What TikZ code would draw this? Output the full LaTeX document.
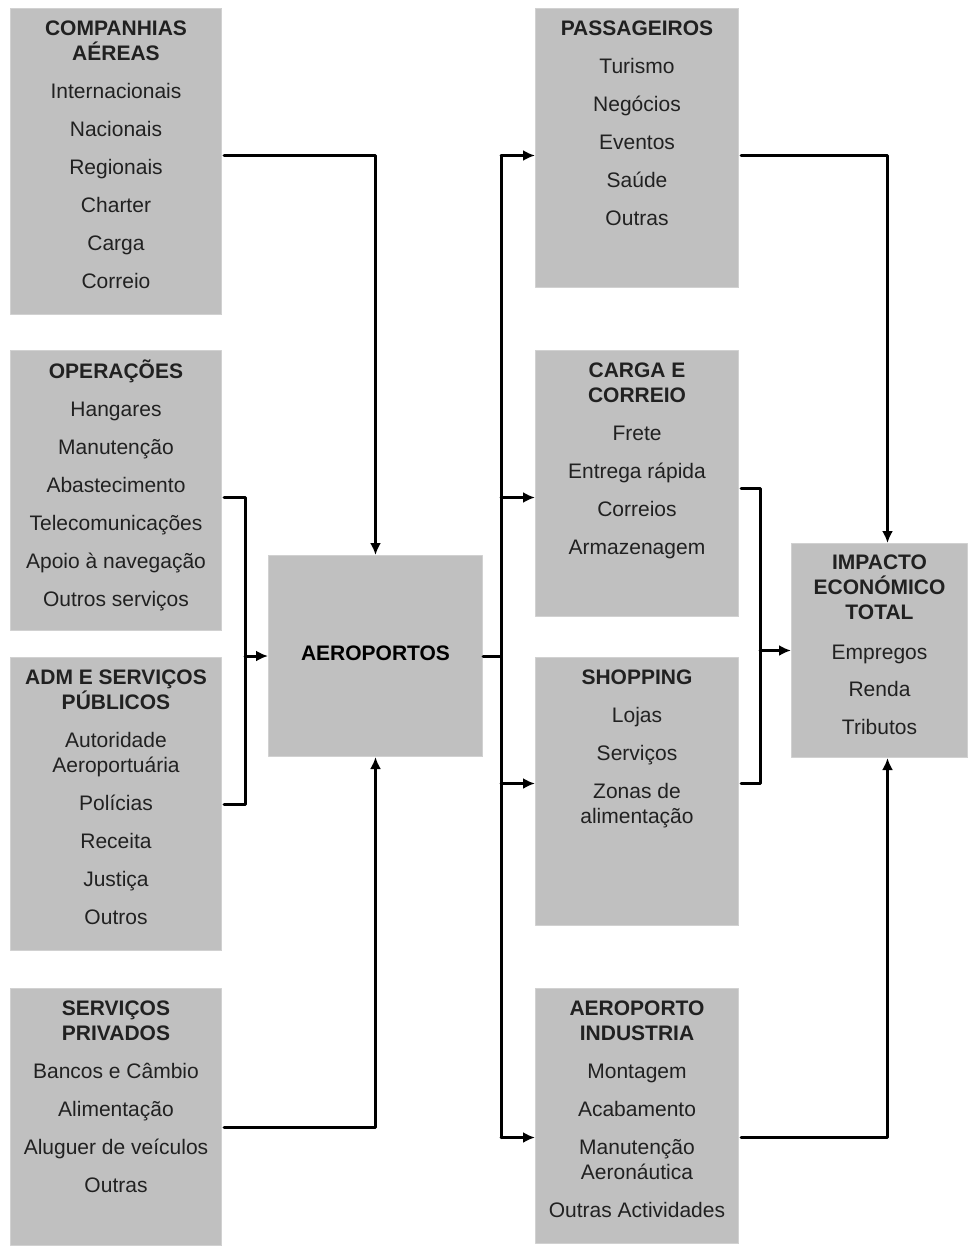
\documentclass[tikz,border=0pt]{standalone}
\usepackage{fontspec}
\setmainfont{Liberation Sans}
\usetikzlibrary{arrows.meta,positioning}

\definecolor{cbxgray}{rgb}{0.7529,0.7529,0.7529}
\definecolor{cbxedge}{rgb}{0.82,0.82,0.82}
\definecolor{ctxgray}{rgb}{0.13,0.13,0.13}

\begin{document}
\begin{tikzpicture}[x=1pt,y=-1pt,line cap=round,line join=round,
  box/.style={fill=cbxgray,draw=cbxedge,line width=1pt,inner sep=0pt,anchor=north west,
    font=\fontsize{21}{25}\selectfont\bfseries},
  txt/.style={align=center,inner sep=0pt,text=ctxgray,font=\fontsize{21}{25}\selectfont},
  link/.style={line width=3pt,draw=black},
  arr/.style={link,-{Latex[length=12pt,width=11pt]}}]
  \useasboundingbox (0,0) rectangle (967,1247);
  % left column
  \node[box,minimum width=211pt,minimum height=306pt] (cia) at (10,8) {};
  \node[txt,below=13pt of cia.north] (ciatxt) {\textbf{COMPANHIAS}\\\textbf{AÉREAS}\\[13pt]Internacionais\\[13pt]Nacionais\\[13pt]Regionais\\[13pt]Charter\\[13pt]Carga\\[13pt]Correio};
  \node[box,minimum width=211pt,minimum height=280pt] (ops) at (10,350) {};
  \node[txt,below=10pt of ops.north] (opstxt) {\textbf{OPERAÇÕES}\\[13pt]Hangares\\[13pt]Manutenção\\[13pt]Abastecimento\\[13pt]Telecomunicações\\[13pt]Apoio à navegação\\[13pt]Outros serviços};
  \node[box,minimum width=211pt,minimum height=293pt] (adm) at (10,657) {};
  \node[txt,below=13pt of adm.north] (admtxt) {\textbf{ADM E SERVIÇOS}\\\textbf{PÚBLICOS}\\[13pt]Autoridade\\Aeroportuária\\[13pt]Polícias\\[13pt]Receita\\[13pt]Justiça\\[13pt]Outros};
  \node[box,minimum width=211pt,minimum height=257pt] (priv) at (10,988) {};
  \node[txt,below=13pt of priv.north] (privtxt) {\textbf{SERVIÇOS}\\\textbf{PRIVADOS}\\[13pt]Bancos e Câmbio\\[13pt]Alimentação\\[13pt]Aluguer de veículos\\[13pt]Outras};
  % centre
  \node[box,minimum width=214pt,minimum height=201pt] (aero) at (268,555) {\raisebox{5pt}{AEROPORTOS}};
  % middle column
  \node[box,minimum width=203pt,minimum height=279pt] (pass) at (535,8) {};
  \node[txt,below=13pt of pass.north] (passtxt) {\textbf{PASSAGEIROS}\\[13pt]Turismo\\[13pt]Negócios\\[13pt]Eventos\\[13pt]Saúde\\[13pt]Outras};
  \node[box,minimum width=203pt,minimum height=266pt] (carga) at (535,350) {};
  \node[txt,below=13pt of carga.north] (cargatxt) {\textbf{CARGA E}\\\textbf{CORREIO}\\[13pt]Frete\\[13pt]Entrega rápida\\[13pt]Correios\\[13pt]Armazenagem};
  \node[box,minimum width=203pt,minimum height=268pt] (shop) at (535,657) {};
  \node[txt,below=13pt of shop.north] (shoptxt) {\textbf{SHOPPING}\\[13pt]Lojas\\[13pt]Serviços\\[13pt]Zonas de\\alimentação};
  \node[box,minimum width=203pt,minimum height=255pt] (ind) at (535,988) {};
  \node[txt,below=13pt of ind.north] (indtxt) {\textbf{AEROPORTO}\\\textbf{INDUSTRIA}\\[13pt]Montagem\\[13pt]Acabamento\\[13pt]Manutenção\\Aeronáutica\\[13pt]Outras Actividades};
  % right
  \node[box,minimum width=176pt,minimum height=214pt] (imp) at (791,543) {};
  \node[txt,below=12pt of imp.north] (imptxt) {\textbf{IMPACTO}\\\textbf{ECONÓMICO}\\\textbf{TOTAL}\\[15pt]Empregos\\[12pt]Renda\\[13pt]Tributos};
  % buses
  \coordinate (lbus) at (245,0);
  \coordinate (rbus) at (501,0);
  \coordinate (mbus) at (760,0);
  \coordinate (passin) at ([yshift=-7.5pt]pass.west);
  \coordinate (cargain) at ([yshift=-14pt]carga.west);
  \coordinate (shopin) at ([yshift=8pt]shop.west);
  \coordinate (indin) at ([yshift=-21.5pt]ind.west);
  \coordinate (shopout) at ([yshift=8pt]shop.east);
  % into the airports
  \draw[arr,shorten <=2pt] ([yshift=6pt]cia.east) -| (aero.north);
  \draw[link,shorten <=2pt,shorten >=2pt] ([yshift=-7pt]ops.east) -| (lbus |- adm.east) -- (adm.east);
  \draw[arr] (lbus |- aero.west) -- (aero.west);
  \draw[arr,shorten <=2pt] ([yshift=-10pt]priv.east) -| (aero.south);
  % out of the airports
  \draw[link] (aero.east) -- (rbus |- aero.east);
  \draw[link] (rbus |- passin) -- (rbus |- indin);
  \draw[arr] (rbus |- passin) -- (passin);
  \draw[arr] (rbus |- cargain) -- (cargain);
  \draw[arr] (rbus |- shopin) -- (shopin);
  \draw[arr] (rbus |- indin) -- (indin);
  % into the total impact
  \draw[arr,shorten <=2pt] ([yshift=-7.5pt]pass.east) -| ([xshift=8pt]imp.north);
  \draw[link,shorten <=2pt,shorten >=2pt] ([yshift=-5pt]carga.east) -| (mbus |- shopout) -- (shopout);
  \draw[arr] (mbus |- imp.west) -- (imp.west);
  \draw[arr,shorten <=2pt] ([yshift=-21.5pt]ind.east) -| ([xshift=8pt]imp.south);
\end{tikzpicture}
\end{document}
